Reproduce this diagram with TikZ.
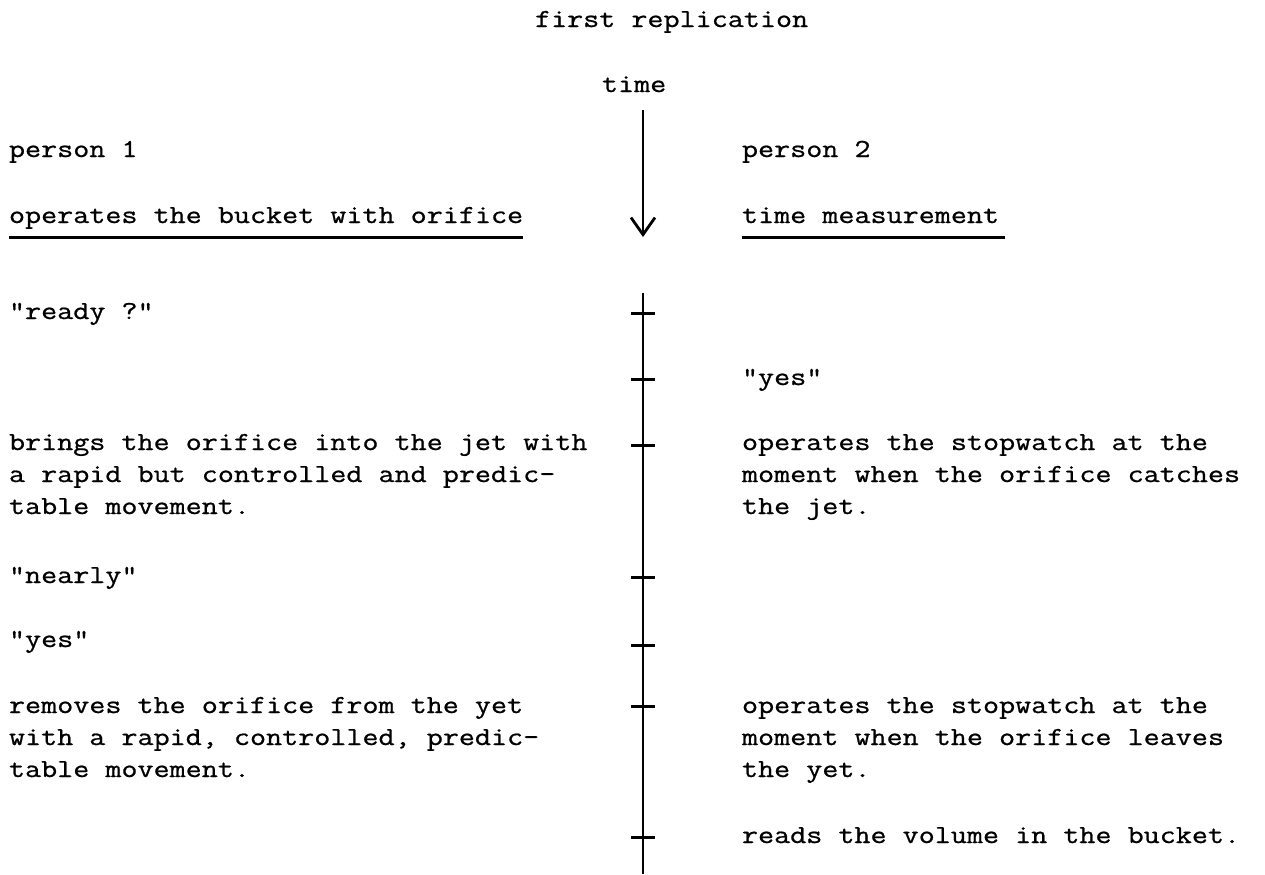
\documentclass[tikz,border=0pt]{standalone}
\usepackage{fontspec}
\newfontfamily\typewr[FakeStretch=1.2, FakeBold=0.8]{Latin Modern Mono}
\usepackage{tikz}
\usetikzlibrary{positioning, arrows.meta}

\begin{document}
\begin{tikzpicture}[x=0.5pt, y=-0.5pt, >={Straight Barb[length=8.5pt, width=12pt]},
        txt/.style={anchor=base west, inner sep=0pt, outer sep=0pt, align=left,
            font=\typewr\fontsize{13}{16}\selectfont},
        uline/.style={line width=1.5pt},
        tickmark/.style={line width=1.5pt}]
    \useasboundingbox (0,0) rectangle (1265,874);

    % heading
    \node[txt] (title) at (535,27) {first replication};
    \node[txt] (time) at (602,92) {time};
    \coordinate (arrtop) at (643,110);
    \coordinate (arrtip) at (643,237);
    \draw[->, line width=1.4pt] (arrtop) -- (arrtip);

    \node[txt] (p1) at (9,157) {person 1};
    \node[txt] (p2) at (742,157) {person 2};
    \node[txt] (hd1) at (9,223) {operates the bucket with orifice};
    \node[txt] (hd2) at (742,223) {time measurement};
    \draw[uline] ([yshift=-7pt]hd1.base west) -- ([yshift=-7pt]hd1.base east);
    \draw[uline] ([yshift=-7pt]hd2.base west) -- ([yshift=-7pt, xshift=3pt]hd2.base east);

    % time axis with ticks
    \coordinate (axtop) at (643,293);
    \coordinate (axbot) at (643,874);
    \draw[line width=1.3pt] (axtop) -- (axbot);
    \foreach \name/\ty in {ready/313, yes/379, jetin/445, nearly/577, yes2/645, jetout/706, read/837} {
        \coordinate (t-\name) at (643,\ty);
        \draw[tickmark] ([xshift=-6pt]t-\name) -- ([xshift=6pt]t-\name);
    }

    % person 1 (multi-line blocks sit on their last baseline)
    \node[txt] (l1) at (9,319) {"ready ?"};
    \node[txt] (l2) at (9,514) {brings the orifice into the jet with\\a rapid but controlled and predic-\\table movement.};
    \node[txt] (l3) at (9,583) {"nearly"};
    \node[txt] (l4) at (9,647) {"yes"};
    \node[txt] (l5) at (9,777) {removes the orifice from the yet\\with a rapid, controlled, predic-\\table movement.};

    % person 2
    \node[txt] (r1) at (742,385) {"yes"};
    \node[txt] (r2) at (742,514) {operates the stopwatch at the\\moment when the orifice catches\\the jet.};
    \node[txt] (r3) at (742,777) {operates the stopwatch at the\\moment when the orifice leaves\\the yet.};
    \node[txt] (r4) at (742,843) {reads the volume in the bucket.};
\end{tikzpicture}
\end{document}
